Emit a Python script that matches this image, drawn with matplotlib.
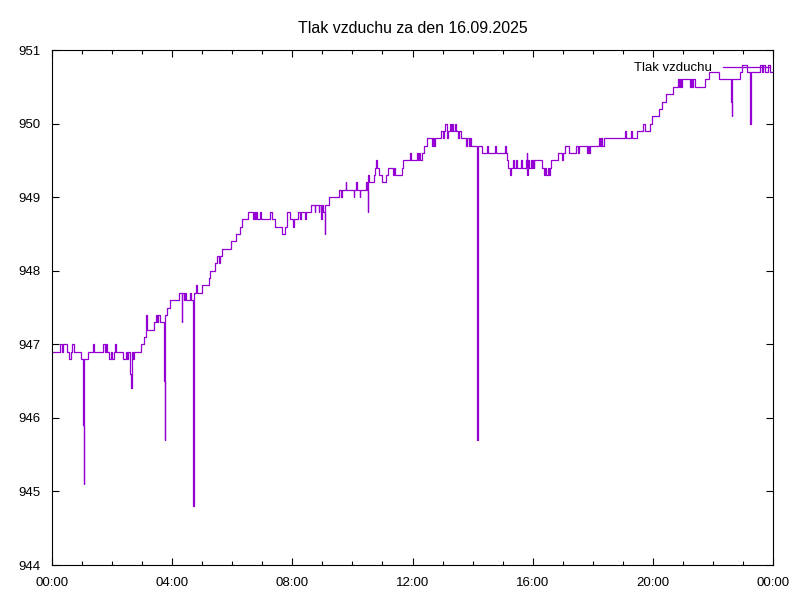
# -*- coding: utf-8 -*-
# Tlak vzduchu za den 16.09.2025 (styl gnuplot)

import datetime as dt
import matplotlib
matplotlib.use("Agg")
import matplotlib.pyplot as plt
import matplotlib.dates as pltd

# casy mereni (HH:MM) a tlak v hPa
casy = ["00:00", "00:16", "00:19", "00:21", "00:29", "00:33", "00:37", "00:40", "00:43",
        "00:57", "01:02", "01:03", "01:04", "01:11", "01:22", "01:24", "01:42", "01:45",
        "01:47", "01:49", "01:53", "01:58", "02:00", "02:03", "02:06", "02:08", "02:22",
        "02:28", "02:30", "02:32", "02:36", "02:38", "02:39", "02:41", "02:43", "02:58",
        "03:04", "03:08", "03:10", "03:16", "03:24", "03:28", "03:30", "03:32", "03:35",
        "03:44", "03:45", "03:46", "03:50", "03:55", "04:01", "04:13", "04:19", "04:20",
        "04:23", "04:25", "04:27", "04:35", "04:37", "04:41", "04:42", "04:43", "04:44",
        "04:48", "04:50", "05:00", "05:13", "05:15", "05:26", "05:30", "05:33", "05:35",
        "05:40", "05:58", "06:07", "06:15", "06:20", "06:32", "06:42", "06:44", "06:46",
        "06:48", "06:50", "06:55", "06:57", "07:15", "07:20", "07:26", "07:40", "07:46",
        "07:50", "07:55", "07:58", "08:02", "08:04", "08:12", "08:15", "08:18", "08:25",
        "08:27", "08:38", "08:45", "08:46", "08:53", "08:54", "08:58", "08:59", "09:02",
        "09:05", "09:06", "09:14", "09:34", "09:38", "09:40", "09:47", "09:48", "10:03",
        "10:04", "10:07", "10:09", "10:15", "10:16", "10:27", "10:30", "10:31", "10:32",
        "10:34", "10:44", "10:45", "10:47", "10:49", "10:53", "11:00", "11:08", "11:12",
        "11:22", "11:24", "11:26", "11:39", "11:42", "11:56", "11:58", "12:09", "12:11",
        "12:13", "12:15", "12:18", "12:22", "12:28", "12:38", "12:40", "12:42", "12:45",
        "12:56", "13:00", "13:02", "13:04", "13:08", "13:09", "13:10", "13:15", "13:17",
        "13:19", "13:21", "13:24", "13:26", "13:30", "13:33", "13:36", "13:47", "13:49",
        "13:52", "13:54", "13:56", "14:08", "14:09", "14:10", "14:18", "14:29", "14:31",
        "14:45", "14:47", "15:05", "15:06", "15:08", "15:11", "15:14", "15:16", "15:21",
        "15:23", "15:27", "15:29", "15:36", "15:38", "15:46", "15:48", "15:49", "15:50",
        "15:52", "15:56", "15:58", "16:00", "16:02", "16:03", "16:18", "16:23", "16:25",
        "16:27", "16:30", "16:32", "16:34", "16:37", "16:50", "16:58", "17:00", "17:05",
        "17:12", "17:26", "17:31", "17:33", "17:48", "17:50", "17:52", "17:54", "18:12",
        "18:15", "18:17", "18:19", "18:22", "19:05", "19:07", "19:17", "19:19", "19:28",
        "19:40", "19:45", "19:55", "19:59", "20:12", "20:18", "20:26", "20:40", "20:50",
        "20:52", "20:54", "20:56", "20:58", "21:14", "21:16", "21:18", "21:20", "21:24",
        "21:44", "21:53", "22:12", "22:37", "22:38", "22:39", "22:54", "22:59", "23:08",
        "23:14", "23:15", "23:16", "23:35", "23:38", "23:40", "23:45", "23:51", "23:54",
        "24:00"]
tlak = [946.9, 947.0, 946.9, 947.0, 946.9, 946.8, 946.9, 947.0, 946.9,
        946.8, 945.9, 945.1, 946.8, 946.9, 947.0, 946.9, 947.0, 946.9,
        947.0, 946.9, 946.8, 946.9, 946.8, 946.9, 947.0, 946.9, 946.8,
        946.9, 946.8, 946.9, 946.6, 946.4, 946.9, 946.8, 946.9, 947.0,
        947.1, 947.4, 947.2, 947.2, 947.3, 947.4, 947.3, 947.4, 947.3,
        946.5, 945.7, 947.4, 947.5, 947.6, 947.6, 947.7, 947.3, 947.7,
        947.6, 947.7, 947.6, 947.7, 947.6, 946.2, 944.8, 947.3, 947.7,
        947.8, 947.7, 947.8, 947.9, 948.0, 948.1, 948.2, 948.1, 948.2,
        948.3, 948.4, 948.5, 948.6, 948.7, 948.8, 948.7, 948.8, 948.7,
        948.8, 948.7, 948.8, 948.7, 948.8, 948.7, 948.6, 948.5, 948.6,
        948.8, 948.7, 948.7, 948.6, 948.7, 948.8, 948.7, 948.8, 948.7,
        948.8, 948.9, 948.8, 948.9, 948.8, 948.9, 948.7, 948.9, 948.8,
        948.5, 948.9, 949.0, 949.1, 949.0, 949.1, 949.2, 949.1, 949.0,
        949.1, 949.2, 949.1, 949.0, 949.1, 949.2, 949.1, 948.8, 949.3,
        949.2, 949.3, 949.4, 949.5, 949.4, 949.3, 949.2, 949.3, 949.4,
        949.3, 949.4, 949.3, 949.4, 949.5, 949.6, 949.5, 949.6, 949.5,
        949.6, 949.5, 949.6, 949.7, 949.8, 949.7, 949.8, 949.7, 949.8,
        949.9, 949.8, 949.9, 950.0, 949.9, 949.8, 949.9, 950.0, 949.9,
        950.0, 949.9, 950.0, 949.9, 949.8, 949.9, 949.8, 949.7, 949.8,
        949.7, 949.8, 949.7, 947.7, 945.7, 949.7, 949.6, 949.7, 949.6,
        949.7, 949.6, 949.7, 949.6, 949.5, 949.4, 949.3, 949.4, 949.5,
        949.4, 949.5, 949.4, 949.5, 949.4, 949.5, 949.6, 949.3, 949.5,
        949.4, 949.5, 949.4, 949.5, 949.4, 949.5, 949.4, 949.3, 949.4,
        949.3, 949.4, 949.3, 949.4, 949.5, 949.6, 949.5, 949.6, 949.7,
        949.6, 949.7, 949.6, 949.7, 949.6, 949.7, 949.6, 949.7, 949.8,
        949.7, 949.8, 949.7, 949.8, 949.9, 949.8, 949.9, 949.8, 949.9,
        950.0, 949.9, 950.0, 950.1, 950.2, 950.3, 950.4, 950.5, 950.6,
        950.5, 950.6, 950.5, 950.6, 950.5, 950.6, 950.5, 950.6, 950.5,
        950.6, 950.7, 950.6, 950.3, 950.1, 950.6, 950.7, 950.8, 950.7,
        950.4, 950.0, 950.7, 950.8, 950.7, 950.8, 950.7, 950.8, 950.7,
        950.7]

den = dt.datetime(2025, 9, 16)
x = [den + dt.timedelta(hours=int(c[:2]), minutes=int(c[3:])) for c in casy]

plt.rcParams['font.family'] = ['Liberation Sans Narrow', 'Liberation Sans', 'DejaVu Sans']
plt.rcParams['font.size'] = 9.5

fig = plt.figure(figsize=(8, 6), dpi=100)
ax = fig.add_axes([52/800, 35/600, 721/800, 515/600])

ax.plot(x, tlak, drawstyle='steps-post', color='#9400D3', linewidth=0.9, label='Tlak vzduchu')

# osy ve stylu gnuplotu
ax.set_xlim(den, den + dt.timedelta(days=1))
ax.set_ylim(944, 951)
ax.xaxis.set_major_locator(pltd.HourLocator(byhour=range(0, 24, 4)))
ax.xaxis.set_minor_locator(pltd.HourLocator())
ax.xaxis.set_major_formatter(pltd.DateFormatter('%H:%M'))
ax.set_yticks(range(944, 952))
ax.tick_params(which='both', direction='in', top=True, right=True, color='black')
ax.tick_params(which='major', length=5, width=0.8, pad=8)
ax.tick_params(which='minor', length=3, width=0.8)
ax.tick_params(axis='x', pad=9)
for s in ax.spines.values():
    s.set_linewidth(0.8)

ax.legend(loc='upper right', bbox_to_anchor=(1.0, 0.982), frameon=False, markerfirst=False,
          handlelength=3.6, borderaxespad=0, borderpad=0.2, handletextpad=0.8)
ax.set_title('Tlak vzduchu za den 16.09.2025', pad=12)

fig.savefig('out.png', dpi=100)
